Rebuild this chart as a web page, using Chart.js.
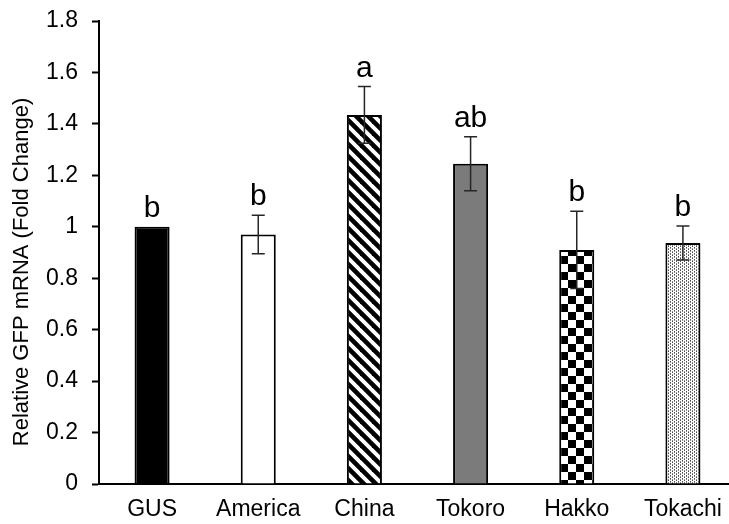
<!DOCTYPE html>
<html>
<head>
<meta charset="utf-8">
<script src="https://cdn.jsdelivr.net/npm/chart.js@4/dist/chart.umd.min.js"></script>
<style>
  html, body { margin: 0; padding: 0; background: #fff; overflow: hidden; }
  #wrap { width: 729px; height: 524px; overflow: hidden; }
  canvas { display: block; }
</style>
</head>
<body>
<div id="wrap"><canvas id="c" width="736" height="524"></canvas></div>
<script>
// Relative GFP expression per line, mean and error
const categories = ['GUS', 'America', 'China', 'Tokoro', 'Hakko', 'Tokachi'];
const means = [1.0, 0.97, 1.435, 1.245, 0.91, 0.937];
const errors = [0, 0.075, 0.11, 0.105, 0.15, 0.066];
const letters = ['b', 'b', 'a', 'ab', 'b', 'b'];
const yTickValues = [0, 0.2, 0.4, 0.6, 0.8, 1.0, 1.2, 1.4, 1.6, 1.8];
const yTitle = 'Relative GFP mRNA (Fold Change)';

const FONT = '"Liberation Sans", Arial, sans-serif';

function tile(w, h, draw) {
  const cv = document.createElement('canvas');
  cv.width = w; cv.height = h;
  const g = cv.getContext('2d');
  draw(g, w, h);
  return document.getElementById('c').getContext('2d').createPattern(cv, 'repeat');
}

// diagonal hatch, lines running top-left to bottom-right
const hatch = tile(12, 12, (g, w) => {
  g.fillStyle = '#fff'; g.fillRect(0, 0, w, w);
  g.strokeStyle = '#000'; g.lineWidth = 4.6; g.lineCap = 'square';
  [[-w, 0], [0, 0], [w, 0]].forEach(([dx]) => {
    g.beginPath(); g.moveTo(dx, 0); g.lineTo(dx + w, w); g.stroke();
  });
});

// checkerboard
const checker = tile(16, 16, (g) => {
  g.fillStyle = '#fff'; g.fillRect(0, 0, 16, 16);
  g.fillStyle = '#000'; g.fillRect(0, 0, 8, 8); g.fillRect(8, 8, 8, 8);
});

// fine dotted grey, in columns
const dots = tile(4, 3, (g) => {
  g.fillStyle = '#fff'; g.fillRect(0, 0, 4, 3);
  g.fillStyle = '#4a4a4a'; g.fillRect(0, 0, 1, 1); g.fillRect(2, 1, 1, 1);
  g.fillStyle = '#8a8a8a'; g.fillRect(0, 2, 1, 1); g.fillRect(2, 2, 1, 1);
});

const fills = ['#000000', '#ffffff', hatch, '#7b7b7b', checker, dots];

const errorBars = {
  id: 'errorBars',
  afterDatasetsDraw(chart) {
    const ctx = chart.ctx;
    const y = chart.scales.y;
    const meta = chart.getDatasetMeta(0);
    ctx.save();
    meta.data.forEach((bar, i) => {
      const x = bar.x;
      const top = means[i] + errors[i];
      if (errors[i] > 0) {
        const yt = y.getPixelForValue(top);
        const yb = y.getPixelForValue(means[i] - errors[i]);
        ctx.strokeStyle = '#262626';
        ctx.lineWidth = 1.5;
        ctx.beginPath();
        ctx.moveTo(x, yt); ctx.lineTo(x, yb);
        ctx.moveTo(x - 6.5, yt); ctx.lineTo(x + 6.5, yt);
        ctx.moveTo(x - 6.5, yb); ctx.lineTo(x + 6.5, yb);
        ctx.stroke();
      }
      ctx.fillStyle = '#000';
      ctx.font = '30px ' + FONT;
      ctx.textAlign = 'center';
      ctx.textBaseline = 'alphabetic';
      ctx.fillText(letters[i], x, y.getPixelForValue(top) - 10);
    });
    // rotated axis title
    ctx.translate(22, 272);
    ctx.rotate(-Math.PI / 2);
    ctx.font = '22px ' + FONT;
    ctx.textAlign = 'center';
    ctx.textBaseline = 'middle';
    ctx.fillText(yTitle, 0, 0);
    ctx.restore();
  }
};

new Chart(document.getElementById('c'), {
  type: 'bar',
  data: {
    labels: categories,
    datasets: [{
      data: means,
      backgroundColor: fills,
      borderColor: '#000',
      borderWidth: 2,
      borderSkipped: 'bottom',
      categoryPercentage: 1,
      barPercentage: 0.33
    }]
  },
  options: {
    responsive: false,
    animation: false,
    devicePixelRatio: 1,
    layout: { padding: { top: 21, right: 0, bottom: 0, left: 0 } },
    plugins: { legend: { display: false }, tooltip: { enabled: false } },
    scales: {
      x: {
        offset: true,
        grid: { display: false, drawTicks: false },
        border: { display: true, color: '#000', width: 2 },
        ticks: { color: '#000', font: { family: FONT, size: 23 }, padding: 12 },
        afterFit(s) { s.height = 40; s.paddingLeft = 0; s.paddingRight = 0; }
      },
      y: {
        min: 0, max: 1.8,
        afterBuildTicks(s) { s.ticks = yTickValues.map(v => ({ value: v })); },
        grid: { drawOnChartArea: false, drawTicks: true, tickLength: 7, tickColor: '#000', tickWidth: 2 },
        border: { display: true, color: '#000', width: 2 },
        ticks: {
          color: '#000', font: { family: FONT, size: 23 }, padding: 14,
          callback: v => String(Number(v.toFixed(1)))
        },
        afterFit(s) { s.width = 99; s.paddingTop = 0; s.paddingBottom = 0; }
      }
    }
  },
  plugins: [errorBars]
});
</script>
</body>
</html>
